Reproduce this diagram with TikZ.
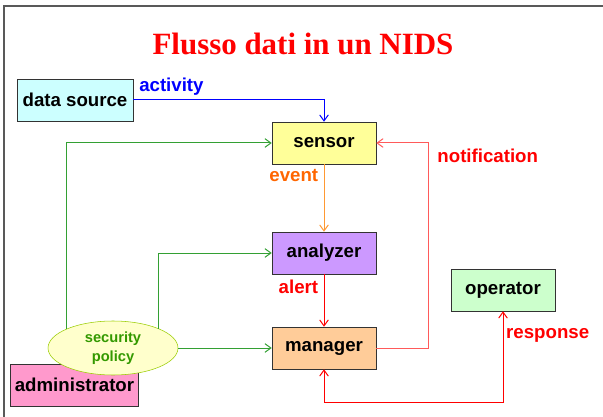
\documentclass[tikz,border=0pt]{standalone}
\usepackage{fontspec}
\setmainfont{Liberation Sans}
\newfontfamily\titlefont{Liberation Serif}
\usepackage{tikz}
\usetikzlibrary{shapes.geometric, arrows, arrows.meta}
\definecolor{dscyan}{RGB}{204,255,255}
\definecolor{senyellow}{RGB}{255,255,153}
\definecolor{anpurple}{RGB}{204,153,255}
\definecolor{manorange}{RGB}{255,204,153}
\definecolor{opgreen}{RGB}{204,255,204}
\definecolor{admpink}{RGB}{255,153,204}
\definecolor{polfill}{RGB}{255,255,204}
\definecolor{polborder}{RGB}{153,204,0}
\definecolor{poltext}{RGB}{51,153,0}
\definecolor{flowgreen}{RGB}{51,160,51}
\definecolor{flowblue}{RGB}{0,0,255}
\definecolor{evorange}{RGB}{255,102,0}
\definecolor{evline}{RGB}{255,153,51}
\definecolor{flowred}{RGB}{255,0,0}
\definecolor{notred}{RGB}{255,90,90}
\tikzstyle{component} = [rectangle, minimum width=78pt, minimum height=31.5pt, text centered, draw=black!80, font=\bfseries\fontsize{14}{16}\selectfont]
\tikzstyle{policyshape} = [ellipse, minimum width=97.5pt, minimum height=40.5pt, inner sep=0pt, align=center, draw=polborder, fill=polfill, text=poltext, font=\bfseries\fontsize{11}{14}\selectfont]
\tikzstyle{flowlabel} = [font=\bfseries\fontsize{14}{16}\selectfont, inner sep=1pt]
\tikzstyle{arrow} = [line width=0.75pt, ->, >={Straight Barb[length=4.5pt, width=6.5pt]}]

\begin{document}
\begin{tikzpicture}
				[x=0.75pt, y=-0.75pt, node distance=82.5pt]
				\useasboundingbox (0,0) rectangle (603,417);
				\draw [black!65, line width=1.2pt] (4,417) -- (4,6) -- (603,6);

				\node (title) at (303,44) {\titlefont\bfseries\fontsize{23.2}{26}\selectfont\color{flowred}Flusso dati in un NIDS};
				\node (datasource) [component, fill=dscyan, minimum width=87pt] at (75,100) {data source};
				\node (sensor) [component, fill=senyellow] at (324,143) {sensor};
				\node (analyzer) [component, fill=anpurple, below of = sensor] {analyzer};
				\node (manager) [component, fill=manorange, below of = analyzer, node distance=71.25pt] {manager};
				\node (operator) [component, fill=opgreen] at (503,290) {operator};
				\node (administrator) [component, fill=admpink, minimum width=95.25pt] at (74.5,385) {administrator};
				\node (policy) [policyshape] at (113,348) {security\\policy};

				\draw [arrow, flowblue] (datasource.east) -| node[flowlabel, pos=0.1, above=2pt] {activity} (sensor.north);
				\draw [arrow, evline] (sensor) -- node[flowlabel, text=evorange, pos=0.16, left=3pt] {event} (analyzer);
				\draw [arrow, flowred] (analyzer) -- node[flowlabel, pos=0.23, left=3pt] {alert} (manager);
				\draw [arrow, notred] (manager.east) -- ++(52,0) |- node[flowlabel, text=flowred, pos=0.468, right=5.5pt] {notification} (sensor.east);
				\draw [arrow, <->, flowred] (manager.south) -- ++(0,33) -| node[flowlabel, pos=0.868, right=1pt] {response} (operator.south);
				\draw [arrow, flowgreen] (policy.158) |- (sensor.west);
				\draw [arrow, flowgreen] (policy.23) |- (analyzer.west);
				\draw [arrow, flowgreen] (policy.east) -- (manager.west);
			\end{tikzpicture}
\end{document}
